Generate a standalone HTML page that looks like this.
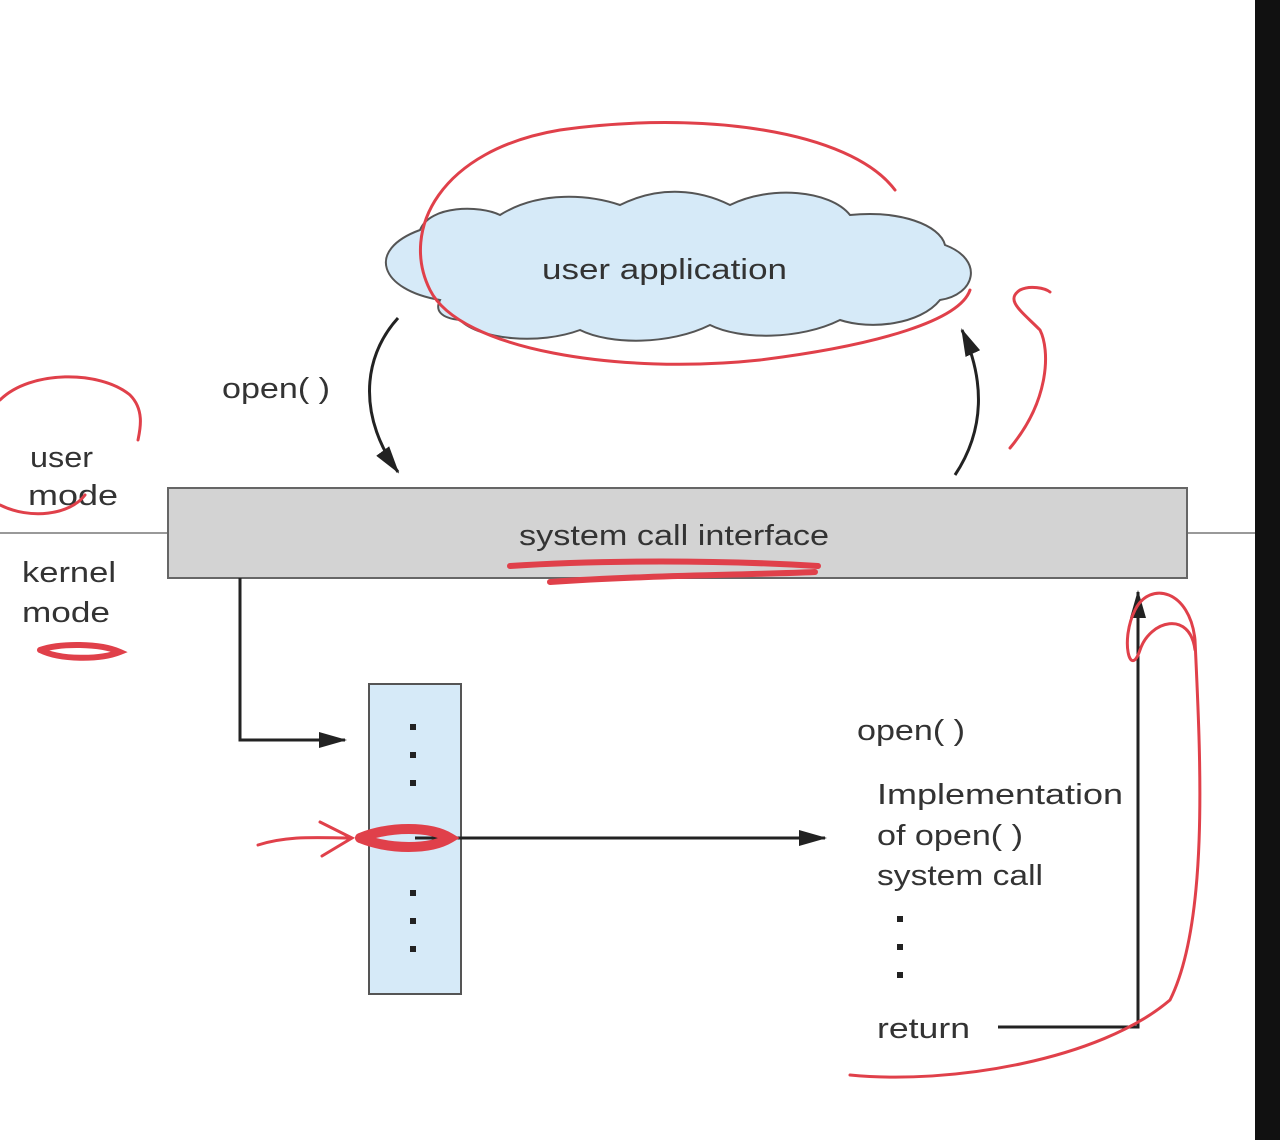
<!DOCTYPE html>
<html><head><meta charset="utf-8"><style>
html,body{margin:0;padding:0;background:#fff;}
svg{display:block;}
text{font-family:"Liberation Sans",sans-serif;fill:#333;}
</style></head><body>
<svg width="1280" height="1140" viewBox="0 0 1280 1140" xmlns="http://www.w3.org/2000/svg">
<defs>
<marker id="ah2" markerWidth="28" markerHeight="20" refX="26" refY="10" orient="auto" markerUnits="userSpaceOnUse"><path d="M0,2 L28,10 L0,18 z" fill="#222"/></marker>
</defs>
<rect width="1280" height="1140" fill="#fff"/>
<rect x="1255" y="0" width="25" height="1140" fill="#111"/>
<line x1="0" y1="533" x2="168" y2="533" stroke="#999" stroke-width="2"/>
<line x1="1187" y1="533" x2="1255" y2="533" stroke="#999" stroke-width="2"/>
<path d="M440,300 C380,290 365,250 420,230 C430,205 480,205 500,215 C540,190 590,195 620,205 C660,185 700,190 730,205 C770,185 830,190 850,215 C900,210 940,225 945,245 C985,260 975,295 940,300 C920,325 870,330 840,320 C800,340 740,340 710,325 C670,345 610,345 580,330 C540,345 480,340 460,320 C440,318 435,310 440,300 Z" fill="#d6eaf8" stroke="#555" stroke-width="2"/>
<text x="542" y="279" font-size="29" textLength="245" lengthAdjust="spacingAndGlyphs">user application</text>
<path d="M398,318 C360,360 360,420 398,472" fill="none" stroke="#222" stroke-width="3" marker-end="url(#ah2)"/>
<path d="M955,475 C985,430 985,380 962,330" fill="none" stroke="#222" stroke-width="3" marker-end="url(#ah2)"/>
<text x="222" y="398" font-size="29" textLength="108" lengthAdjust="spacingAndGlyphs">open( )</text>
<text x="30" y="467" font-size="29" textLength="63" lengthAdjust="spacingAndGlyphs">user</text>
<text x="28" y="505" font-size="29" textLength="90" lengthAdjust="spacingAndGlyphs">mode</text>
<text x="22" y="582" font-size="29" textLength="94" lengthAdjust="spacingAndGlyphs">kernel</text>
<text x="22" y="622" font-size="29" textLength="88" lengthAdjust="spacingAndGlyphs">mode</text>
<rect x="168" y="488" width="1019" height="90" fill="#d3d3d3" stroke="#666" stroke-width="2"/>
<text x="519" y="545" font-size="29" textLength="310" lengthAdjust="spacingAndGlyphs">system call interface</text>
<rect x="369" y="684" width="92" height="310" fill="#d6eaf8" stroke="#555" stroke-width="2"/>
<g fill="#222"><rect x="410" y="724" width="6" height="6"/><rect x="410" y="752" width="6" height="6"/><rect x="410" y="780" width="6" height="6"/>
<rect x="410" y="890" width="6" height="6"/><rect x="410" y="918" width="6" height="6"/><rect x="410" y="946" width="6" height="6"/>
<rect x="897" y="916" width="6" height="6"/><rect x="897" y="944" width="6" height="6"/><rect x="897" y="972" width="6" height="6"/></g>
<polyline points="240,578 240,740 345,740" fill="none" stroke="#222" stroke-width="3" marker-end="url(#ah2)"/>
<line x1="415" y1="838" x2="825" y2="838" stroke="#222" stroke-width="3" marker-end="url(#ah2)"/>
<text x="857" y="740" font-size="29" textLength="108" lengthAdjust="spacingAndGlyphs">open( )</text>
<text x="877" y="804" font-size="29" textLength="246" lengthAdjust="spacingAndGlyphs">Implementation</text>
<text x="877" y="845" font-size="29" textLength="146" lengthAdjust="spacingAndGlyphs">of open( )</text>
<text x="877" y="885" font-size="29" textLength="166" lengthAdjust="spacingAndGlyphs">system call</text>
<text x="877" y="1038" font-size="29" textLength="93" lengthAdjust="spacingAndGlyphs">return</text>
<polyline points="998,1027 1138,1027 1138,592" fill="none" stroke="#222" stroke-width="3" marker-end="url(#ah2)"/>
<g fill="none" stroke="#e0404a" stroke-width="3" stroke-linecap="round">
<path d="M895,190 C850,130 700,110 560,130 C440,150 400,230 430,290 C460,350 620,375 760,360 C880,345 960,320 970,290"/>
<path d="M1010,448 C1050,400 1050,350 1040,330 C1020,310 1005,300 1020,290 C1030,285 1045,288 1050,292"/>
<path d="M0,400 C30,370 100,370 130,395 C145,410 140,430 138,440"/>
<path d="M0,505 C30,520 70,515 85,495"/>
<path d="M40,650 C60,643 100,643 120,652 C100,660 60,660 40,650" stroke-width="6"/>
<path d="M510,566 C600,560 720,560 818,566 M550,582 C650,575 750,575 815,572" stroke-width="6"/>
<path d="M258,845 C290,835 320,838 350,838 M320,822 L352,838 L322,856"/>
<path d="M360,838 C390,826 430,826 450,838 C430,850 390,850 360,838" stroke-width="10"/>
<path d="M850,1075 C950,1085 1100,1060 1170,1000 C1210,920 1200,750 1195,640 C1190,590 1150,580 1135,610 C1120,640 1130,680 1140,650 C1150,620 1190,610 1195,650"/>
</g>
</svg>
</body></html>
